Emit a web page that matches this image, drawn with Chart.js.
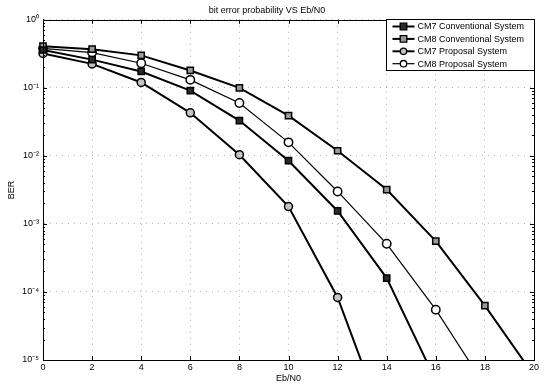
<!DOCTYPE html>
<html>
<head>
<meta charset="utf-8">
<script src="https://cdn.jsdelivr.net/npm/chart.js@4/dist/chart.umd.min.js"></script>
<style>
  html, body { margin: 0; padding: 0; background: #fff; }
  #wrap { width: 547px; height: 384px; position: relative; }
</style>
</head>
<body>
<div id="wrap"><canvas id="c" width="547" height="384"></canvas></div>
<script>
// ---- data ----
const ebn0 = [0, 2, 4, 6, 8, 10, 12, 14, 16, 18, 20];
const cm7Conventional = [0.36, 0.26, 0.174, 0.091, 0.033, 0.0085, 0.00155, 1.6e-4, 5e-6, null, null];
const cm8Conventional = [0.41, 0.37, 0.30, 0.18, 0.10, 0.039, 0.0119, 0.0032, 5.6e-4, 6.3e-5, 5.9e-6];
const cm7Proposal = [0.32, 0.225, 0.12, 0.043, 0.0104, 0.0018, 8.3e-5, 9.6e-7, null, null, null];
const cm8Proposal = [0.38, 0.33, 0.23, 0.131, 0.060, 0.0158, 0.0030, 5.1e-4, 5.5e-5, 4.2e-6, null];
const seriesNames = ['CM7 Conventional System', 'CM8 Conventional System', 'CM7 Proposal System', 'CM8 Proposal System'];
const yTickValues = [1e-5, 1e-4, 1e-3, 1e-2, 1e-1, 1];
const xTickValues = [0, 2, 4, 6, 8, 10, 12, 14, 16, 18, 20];
const titleText = 'bit error probability VS Eb/N0';
const xTitle = 'Eb/N0';
const yTitle = 'BER';

const FONT = '"Liberation Sans", Arial, sans-serif';
const sup = {'0':'⁰','1':'¹','2':'²','3':'³','4':'⁴','5':'⁵','6':'⁶','7':'⁷','8':'⁸','9':'⁹','-':'⁻'};
function toPoints(arr) {
  const out = [];
  arr.forEach((v, i) => { if (v !== null) out.push({ x: ebn0[i], y: v }); });
  return out;
}

const styles = [
  { pointStyle: 'rect', bg: '#2a2a2a', border: '#000', lw: 2, pr: 4.4 },
  { pointStyle: 'rect', bg: '#9a9a9a', border: '#000', lw: 2, pr: 4.4 },
  { pointStyle: 'circle', bg: '#c4c4c4', border: '#000', lw: 2, pr: 4 },
  { pointStyle: 'circle', bg: '#ffffff', border: '#000', lw: 1.2, pr: 4.2 }
];
const allSeries = [cm7Conventional, cm8Conventional, cm7Proposal, cm8Proposal];

const datasets = allSeries.map((arr, i) => ({
  label: seriesNames[i],
  data: toPoints(arr),
  borderColor: '#000',
  borderWidth: styles[i].lw,
  pointStyle: styles[i].pointStyle,
  pointRadius: styles[i].pr,
  pointBackgroundColor: styles[i].bg,
  pointBorderColor: styles[i].border,
  pointBorderWidth: 1.5,
  fill: false,
  tension: 0,
  clip: { left: 10, top: 10, right: 10, bottom: 0 }
}));

const framePlugin = {
  id: 'frame',
  afterDatasetsDraw(chart) {
    const { ctx, chartArea: a, scales } = chart;
    ctx.save();
    ctx.strokeStyle = '#000';
    ctx.lineWidth = 1;
    ctx.beginPath();
    xTickValues.forEach(v => {
      const px = Math.round(scales.x.getPixelForValue(v)) + 0.5;
      ctx.moveTo(px, a.bottom); ctx.lineTo(px, a.bottom - 4);
      ctx.moveTo(px, a.top); ctx.lineTo(px, a.top + 4);
    });
    for (let d = -5; d <= 0; d++) {
      for (let m = 1; m <= 9; m++) {
        const v = m * Math.pow(10, d);
        if (v > 1.0000001) break;
        const py = Math.round(scales.y.getPixelForValue(v)) + 0.5;
        const len = m === 1 ? 4 : 2;
        ctx.moveTo(a.left, py); ctx.lineTo(a.left + len, py);
        ctx.moveTo(a.right, py); ctx.lineTo(a.right - len, py);
      }
    }
    ctx.stroke();
    ctx.strokeRect(Math.round(a.left) + 0.5, Math.round(a.top) + 0.5,
                   Math.round(a.right - a.left), Math.round(a.bottom - a.top));
    ctx.restore();
  },
  afterDraw(chart) {
    const { ctx, chartArea: a } = chart;
    const w = 148, h = 51;
    const x0 = Math.round(a.right) - w + 0.5, y0 = Math.round(a.top) - 1 + 0.5;
    ctx.save();
    ctx.fillStyle = '#fff';
    ctx.fillRect(x0, y0, w, h);
    ctx.strokeStyle = '#000';
    ctx.lineWidth = 1;
    ctx.strokeRect(x0, y0, w, h);
    ctx.font = '9px ' + FONT;
    ctx.textBaseline = 'middle';
    ctx.textAlign = 'left';
    for (let i = 0; i < seriesNames.length; i++) {
      const cy = y0 + 7 + i * 12.4;
      const st = styles[i];
      ctx.strokeStyle = '#000';
      ctx.lineWidth = st.lw;
      ctx.beginPath();
      ctx.moveTo(x0 + 6, cy); ctx.lineTo(x0 + 28, cy);
      ctx.stroke();
      ctx.lineWidth = 1.3;
      ctx.fillStyle = st.bg;
      ctx.beginPath();
      if (st.pointStyle === 'rect') {
        ctx.rect(x0 + 17 - 3.3, cy - 3.3, 6.6, 6.6);
      } else {
        ctx.arc(x0 + 17, cy, 3.2, 0, Math.PI * 2);
      }
      ctx.fill();
      ctx.stroke();
      ctx.fillStyle = '#000';
      ctx.fillText(seriesNames[i], x0 + 31, cy + 0.5);
    }
    ctx.restore();
  }
};

new Chart(document.getElementById('c'), {
  type: 'line',
  data: { datasets },
  plugins: [framePlugin],
  options: {
    responsive: false,
    animation: false,
    devicePixelRatio: 1,
    layout: { padding: { top: 0, right: 13, bottom: 0, left: 0 } },
    plugins: {
      legend: { display: false },
      tooltip: { enabled: false },
      title: {
        display: true,
        text: titleText,
        color: '#000',
        font: { family: FONT, size: 9, weight: 'normal' },
        padding: { top: 5, bottom: 4 }
      }
    },
    scales: {
      x: {
        type: 'linear',
        min: 0, max: 20,
        afterBuildTicks: axis => { axis.ticks = xTickValues.map(v => ({ value: v })); },
        afterFit: axis => { axis.height = 24; },
        ticks: {
          color: '#000',
          font: { family: FONT, size: 9 },
          padding: 2,
          maxRotation: 0,
          autoSkip: false
        },
        grid: { drawTicks: false, color: '#b4b4b4', lineWidth: 1 },
        border: { display: true, color: '#000', width: 1, dash: [1, 5] },
        title: {
          display: true,
          text: xTitle,
          color: '#000',
          font: { family: FONT, size: 9 },
          padding: { top: 0, bottom: 0 }
        }
      },
      y: {
        type: 'logarithmic',
        min: 1e-5, max: 1,
        afterBuildTicks: axis => { axis.ticks = yTickValues.map(v => ({ value: v })); },
        afterFit: axis => { axis.width = 43; },
        ticks: {
          color: '#000',
          font: { family: FONT, size: 9 },
          padding: 4,
          autoSkip: false,
          callback: v => {
            const e = String(Math.round(Math.log10(v)));
            return '10' + e.split('').map(c => sup[c]).join('');
          }
        },
        grid: { drawTicks: false, color: '#b4b4b4', lineWidth: 1 },
        border: { display: true, color: '#000', width: 1, dash: [1, 5] },
        title: {
          display: true,
          text: yTitle,
          color: '#000',
          font: { family: FONT, size: 9 },
          padding: { top: 6, bottom: 0 }
        }
      }
    }
  }
});
</script>
</body>
</html>
